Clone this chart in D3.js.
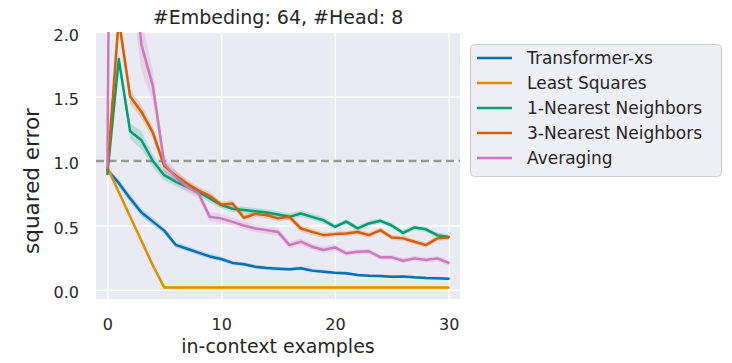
<!DOCTYPE html>
<html>
<head>
<meta charset="utf-8">
<script src="https://cdn.jsdelivr.net/npm/d3@7"></script>
<style>
  html, body { margin: 0; padding: 0; background: #ffffff; }
  svg { display: block; font-family: "DejaVu Sans", sans-serif; }
</style>
</head>
<body>
<svg id="chart" width="732" height="363"></svg>
<script>
// Number of in-context examples on the x axis
const examples = d3.range(0, 31);

// Mean squared error per method, one value per example count
const transformerXs = [0.93, 0.83, 0.71, 0.60, 0.53, 0.46, 0.35, 0.32, 0.29, 0.26, 0.24,
  0.21, 0.20, 0.18, 0.17, 0.165, 0.16, 0.168, 0.15, 0.142, 0.134, 0.129, 0.116, 0.111,
  0.108, 0.103, 0.105, 0.098, 0.093, 0.090, 0.087];
const leastSquares = [0.95, 0.76, 0.57, 0.38, 0.19, 0.02, 0.02, 0.02, 0.02, 0.02, 0.02,
  0.02, 0.02, 0.02, 0.02, 0.02, 0.02, 0.02, 0.02, 0.02, 0.02, 0.02, 0.02, 0.02,
  0.02, 0.02, 0.02, 0.02, 0.02, 0.02, 0.02];
const nearest1 = [0.90, 1.79, 1.23, 1.16, 1.00, 0.89, 0.84, 0.80, 0.76, 0.71, 0.66,
  0.63, 0.62, 0.61, 0.60, 0.585, 0.567, 0.593, 0.567, 0.54, 0.49, 0.53, 0.477, 0.516,
  0.536, 0.50, 0.443, 0.485, 0.47, 0.425, 0.41];
const nearest3 = [0.93, 2.10, 1.50, 1.38, 1.22, 0.96, 0.89, 0.825, 0.77, 0.73, 0.66,
  0.67, 0.56, 0.59, 0.58, 0.555, 0.567, 0.477, 0.45, 0.425, 0.433, 0.438, 0.45, 0.425,
  0.464, 0.407, 0.40, 0.374, 0.348, 0.40, 0.407];
const averaging = [0.95, 12.0, 2.70, 1.90, 1.58, 0.98, 0.876, 0.80, 0.75, 0.567, 0.555,
  0.528, 0.50, 0.477, 0.464, 0.45, 0.348, 0.374, 0.335, 0.31, 0.33, 0.284, 0.296, 0.30,
  0.253, 0.253, 0.227, 0.245, 0.232, 0.245, 0.21];

// Half-width of the confidence band around each curve
const transformerBand = [0.02, 0.03, 0.03, 0.03, 0.03, 0.025, 0.02, 0.02, 0.02, 0.02, 0.02,
  0.015, 0.015, 0.015, 0.015, 0.015, 0.015, 0.015, 0.015, 0.015, 0.012, 0.012, 0.012, 0.012,
  0.012, 0.012, 0.012, 0.012, 0.012, 0.012, 0.012];
const leastSquaresBand = [0.02, 0.015, 0.012, 0.01, 0.008, 0.006, 0.006, 0.006, 0.006, 0.006, 0.006,
  0.006, 0.006, 0.006, 0.006, 0.006, 0.006, 0.006, 0.006, 0.006, 0.006, 0.006, 0.006, 0.006,
  0.006, 0.006, 0.006, 0.006, 0.006, 0.006, 0.006];
const nearest1Band = [0.03, 0.05, 0.06, 0.07, 0.05, 0.04, 0.035, 0.03, 0.03, 0.03, 0.025,
  0.025, 0.025, 0.025, 0.025, 0.025, 0.025, 0.025, 0.025, 0.025, 0.02, 0.02, 0.02, 0.02,
  0.02, 0.02, 0.02, 0.02, 0.02, 0.02, 0.02];
const nearest3Band = [0.03, 0.08, 0.06, 0.05, 0.05, 0.04, 0.035, 0.03, 0.03, 0.03, 0.025,
  0.025, 0.025, 0.025, 0.025, 0.025, 0.025, 0.025, 0.025, 0.02, 0.02, 0.02, 0.02, 0.02,
  0.02, 0.02, 0.02, 0.02, 0.02, 0.02, 0.02];
const averagingBand = [0.03, 1.5, 0.35, 0.2, 0.12, 0.07, 0.05, 0.045, 0.04, 0.035, 0.035,
  0.03, 0.03, 0.03, 0.03, 0.03, 0.025, 0.025, 0.025, 0.025, 0.025, 0.02, 0.02, 0.02,
  0.02, 0.02, 0.02, 0.02, 0.02, 0.02, 0.02];

const seriesNames = ["Transformer-xs", "Least Squares", "1-Nearest Neighbors", "3-Nearest Neighbors", "Averaging"];
const seriesColors = ["#0173b2", "#de8f05", "#029e73", "#d55e00", "#cc78bc"];
const seriesValues = [transformerXs, leastSquares, nearest1, nearest3, averaging];
const seriesBands = [transformerBand, leastSquaresBand, nearest1Band, nearest3Band, averagingBand];

const xTicks = [0, 10, 20, 30];
const yTicks = [0.0, 0.5, 1.0, 1.5, 2.0];
const baseline = 1.0;

const titleText = "#Embeding: 64, #Head: 8";
const xLabel = "in-context examples";
const yLabel = "squared error";

// Layout
const plot = { left: 96, right: 460, top: 32, bottom: 299 };

const svg = d3.select("#chart");
const x = d3.scaleLinear().domain([-1, 31]).range([plot.left, plot.right]);
const y = d3.scaleLinear().domain([-0.07, 2.0]).range([plot.bottom, plot.top]);

// Axes background
svg.append("rect")
  .attr("x", plot.left).attr("y", plot.top)
  .attr("width", plot.right - plot.left).attr("height", plot.bottom - plot.top)
  .attr("fill", "#eaeaf2");

svg.append("defs").append("clipPath").attr("id", "plot-clip")
  .append("rect")
  .attr("x", plot.left).attr("y", plot.top)
  .attr("width", plot.right - plot.left).attr("height", plot.bottom - plot.top);

// Grid lines drawn from the axes generators, tick labels styled separately
const xAxis = svg.append("g")
  .attr("transform", `translate(0,${plot.bottom})`)
  .call(d3.axisBottom(x).tickValues(xTicks).tickFormat(d3.format("d"))
    .tickSize(-(plot.bottom - plot.top)).tickPadding(20));
const yAxis = svg.append("g")
  .attr("transform", `translate(${plot.left},0)`)
  .call(d3.axisLeft(y).tickValues(yTicks).tickFormat(d3.format(".1f"))
    .tickSize(-(plot.right - plot.left)).tickPadding(17));

[xAxis, yAxis].forEach(g => {
  g.select(".domain").remove();
  g.selectAll(".tick line").attr("stroke", "#ffffff").attr("stroke-width", 1.3);
  g.selectAll(".tick text")
    .attr("fill", "#262626")
    .style("font-family", "'DejaVu Sans', sans-serif")
    .style("font-size", "16px");
});
xAxis.selectAll(".tick text").attr("dy", "0.71em").attr("y", 20);
yAxis.selectAll(".tick text").attr("dy", "0.5em");

const content = svg.append("g").attr("clip-path", "url(#plot-clip)");

// Reference level
content.append("line")
  .attr("x1", plot.left).attr("x2", plot.right)
  .attr("y1", y(baseline)).attr("y2", y(baseline))
  .attr("stroke", "#999999").attr("stroke-width", 2.4)
  .attr("stroke-dasharray", "8,4.5");

const area = d3.area()
  .x((d, i) => x(examples[i]))
  .y0(d => y(d[0] - d[1]))
  .y1(d => y(d[0] + d[1]));
const line = d3.line()
  .x((d, i) => x(examples[i]))
  .y(d => y(d));

seriesValues.forEach((vals, s) => {
  const pairs = vals.map((v, i) => [v, seriesBands[s][i]]);
  content.append("path")
    .attr("d", area(pairs))
    .attr("fill", seriesColors[s]).attr("fill-opacity", 0.2);
});
seriesValues.forEach((vals, s) => {
  content.append("path")
    .attr("d", line(vals))
    .attr("fill", "none")
    .attr("stroke", seriesColors[s])
    .attr("stroke-width", 2.5)
    .attr("stroke-linejoin", "round")
    .attr("stroke-linecap", "round");
});

// Title and axis labels
svg.append("text")
  .attr("x", (plot.left + plot.right) / 2).attr("y", 24)
  .attr("text-anchor", "middle")
  .attr("fill", "#262626")
  .style("font-size", "19px")
  .text(titleText);

svg.append("text")
  .attr("x", (plot.left + plot.right) / 2).attr("y", 353)
  .attr("text-anchor", "middle")
  .attr("fill", "#262626")
  .style("font-size", "19px")
  .text(xLabel);

svg.append("text")
  .attr("transform", "translate(39,181) rotate(-90)")
  .attr("text-anchor", "middle")
  .attr("fill", "#262626")
  .style("font-size", "21.5px")
  .text(yLabel);

// Legend
const legend = svg.append("g");
legend.append("rect")
  .attr("x", 470.5).attr("y", 44.5)
  .attr("width", 251).attr("height", 132)
  .attr("rx", 4).attr("ry", 4)
  .attr("fill", "#eeeef5")
  .attr("stroke", "#cccccc").attr("stroke-width", 1);

seriesNames.forEach((name, i) => {
  const cy = 58 + i * 25;
  legend.append("line")
    .attr("x1", 477).attr("x2", 512)
    .attr("y1", cy).attr("y2", cy)
    .attr("stroke", seriesColors[i]).attr("stroke-width", 2.5);
  legend.append("text")
    .attr("x", 527).attr("y", cy)
    .attr("dy", "0.36em")
    .attr("fill", "#262626")
    .style("font-size", "17px")
    .text(name);
});
</script>
</body>
</html>
